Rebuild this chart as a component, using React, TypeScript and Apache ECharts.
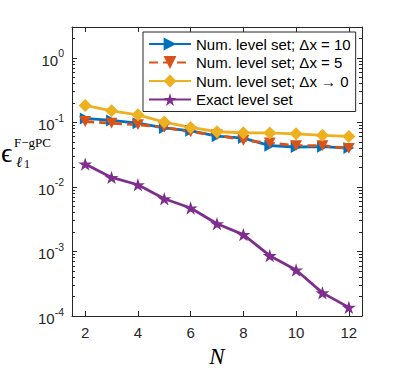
import React, { useEffect, useRef } from "react";
import * as echarts from "echarts";

const orders = [2, 3, 4, 5, 6, 7, 8, 9, 10, 11, 12];
const errNum10 = [0.115, 0.107, 0.097, 0.082, 0.074, 0.061, 0.057, 0.0435, 0.0415, 0.042, 0.04];
const errNum5 = [0.103, 0.097, 0.092, 0.0835, 0.071, 0.064, 0.0525, 0.048, 0.0435, 0.0435, 0.0395];
const errNum0 = [0.183, 0.151, 0.131, 0.101, 0.0835, 0.0715, 0.069, 0.0685, 0.0665, 0.063, 0.0605];
const errExact = [0.0226, 0.014, 0.0108, 0.00656, 0.00471, 0.00269, 0.00182, 0.00086, 0.000516, 0.000228, 0.000136];

const seriesNames = [
  "Num. level set; Δx = 10",
  "Num. level set; Δx = 5",
  "Num. level set; Δx → 0",
  "Exact level set",
];
const xTicks = [2, 4, 6, 8, 10, 12];
const yMajor = [1e-4, 1e-3, 1e-2, 1e-1, 1];
const yMinor = [
  2e-4, 3e-4, 4e-4, 5e-4, 6e-4, 7e-4, 8e-4, 9e-4,
  2e-3, 3e-3, 4e-3, 5e-3, 6e-3, 7e-3, 8e-3, 9e-3,
  2e-2, 3e-2, 4e-2, 5e-2, 6e-2, 7e-2, 8e-2, 9e-2,
  2e-1, 3e-1, 4e-1, 5e-1, 6e-1, 7e-1, 8e-1, 9e-1,
  2, 3,
];

const COLORS = ["#0072BD", "#D95319", "#EDB120", "#7E2F8E"];
const AX = "#262626";
const SANS = "'Liberation Sans', Arial, Helvetica, sans-serif";
const SERIF = "'Liberation Serif', 'DejaVu Serif', 'Times New Roman', serif";

const STAR =
  "path://M50,0 L61.23,34.55 L97.55,34.55 L68.17,55.9 L79.39,90.45 L50,69.1 L20.61,90.45 L31.83,55.9 L2.45,34.55 L38.77,34.55 Z";
const TRI_RIGHT = "path://M0,0 L9,5 L0,10 Z";
const TRI_DOWN = "path://M0,0 L10,0 L5,9 Z";
const DIAMOND = "path://M5,0 L10,5 L5,10 L0,5 Z";

const legendText = { fontSize: 15, lineHeight: 16, color: "#000", fontFamily: SANS };

export default function App() {
  const ref = useRef<HTMLDivElement>(null);
  useEffect(() => {
    if (!ref.current) return;
    const chart = echarts.init(ref.current, null, { renderer: "svg" });
    const mk = (vals: number[]) => orders.map((n, i) => [n, vals[i]]);
    const base = (i: number) => ({
      type: "line" as const,
      name: seriesNames[i],
      color: COLORS[i],
      lineStyle: { width: 2.8, color: COLORS[i] },
      itemStyle: { color: COLORS[i] },
      symbolKeepAspect: true,
    });
    const yAxisCommon = {
      type: "log" as const,
      logBase: 10,
      min: 1e-4,
      max: 3,
      splitLine: { show: false },
    };
    const xAxisCommon = {
      type: "value" as const,
      min: 1.5,
      max: 12.5,
      splitLine: { show: false },
    };
    chart.setOption({
      animation: false,
      backgroundColor: "#fff",
      grid: { left: 72, right: 37, top: 27, bottom: 55, containLabel: false, outerBoundsMode: "none" },
      legend: {
        orient: "vertical",
        left: 143,
        top: 32,
        padding: [4, 5, 4, 5],
        itemWidth: 42,
        itemHeight: 16,
        itemGap: 2.5,
        borderColor: AX,
        borderWidth: 1,
        borderRadius: 0,
        backgroundColor: "#fff",
        textStyle: legendText,
        data: seriesNames.map((name) => ({ name, textStyle: legendText })),
      },
      xAxis: [
        {
          ...xAxisCommon,
          position: "bottom",
          axisLine: { show: true, lineStyle: { color: AX, width: 1 } },
          axisTick: { show: true, inside: true, length: 5, customValues: xTicks, lineStyle: { color: AX } },
          axisLabel: { customValues: xTicks, fontSize: 15, color: AX, fontFamily: SANS, margin: 9 },
          name: "N",
          nameLocation: "middle",
          nameGap: 26,
          nameTextStyle: { fontFamily: SERIF, fontStyle: "italic", fontSize: 23, color: "#000" },
        },
        {
          ...xAxisCommon,
          position: "top",
          axisLine: { show: true, lineStyle: { color: AX, width: 1 } },
          axisTick: { show: true, inside: true, length: 5, customValues: xTicks, lineStyle: { color: AX } },
          axisLabel: { show: false },
        },
      ],
      yAxis: [
        {
          ...yAxisCommon,
          position: "left",
          axisLine: { show: true, lineStyle: { color: AX, width: 1 } },
          axisTick: { show: true, inside: true, length: 5, customValues: yMajor, lineStyle: { color: AX } },
          axisLabel: {
            customValues: yMajor,
            margin: 8,
            formatter: (v: number) => {
              const e = Math.round(Math.log10(v));
              return "{b|10}{s|" + e + "}";
            },
            rich: {
              b: { fontSize: 15, color: AX, fontFamily: SANS, verticalAlign: "bottom", lineHeight: 20 },
              s: { fontSize: 10.5, color: AX, fontFamily: SANS, verticalAlign: "top", lineHeight: 12 },
            },
          },
        },
        {
          ...yAxisCommon,
          position: "right",
          axisLine: { show: true, lineStyle: { color: AX, width: 1 } },
          axisTick: { show: true, inside: true, length: 5, customValues: yMajor, lineStyle: { color: AX } },
          axisLabel: { show: false },
        },
        {
          ...yAxisCommon,
          position: "left",
          axisLine: { show: false },
          axisTick: { show: true, inside: true, length: 3, customValues: yMinor, lineStyle: { color: AX } },
          axisLabel: { show: false },
        },
        {
          ...yAxisCommon,
          position: "right",
          axisLine: { show: false },
          axisTick: { show: true, inside: true, length: 3, customValues: yMinor, lineStyle: { color: AX } },
          axisLabel: { show: false },
        },
      ],
      series: [
        { ...base(0), data: mk(errNum10), symbol: TRI_RIGHT, symbolSize: 12 },
        { ...base(1), data: mk(errNum5), symbol: TRI_DOWN, symbolSize: 12, lineStyle: { width: 2.8, color: COLORS[1], type: [9, 5] } },
        { ...base(2), data: mk(errNum0), symbol: DIAMOND, symbolSize: 13 },
        { ...base(3), data: mk(errExact), symbol: STAR, symbolSize: 14 },
      ],
      graphic: [
        {
          type: "text",
          left: 1,
          top: 138,
          style: { text: "ϵ", fontSize: 28, fontFamily: SERIF, fill: "#000" },
        },
        {
          type: "text",
          left: 14,
          top: 136,
          style: { text: "F−gPC", fontSize: 13, fontFamily: SERIF, fill: "#000" },
        },
        {
          type: "text",
          left: 16,
          top: 154,
          style: { text: "ℓ", fontSize: 15, fontFamily: SERIF, fontStyle: "italic", fill: "#000" },
        },
        {
          type: "text",
          left: 24,
          top: 158,
          style: { text: "1", fontSize: 12, fontFamily: SERIF, fill: "#000" },
        },
      ],
    });
    return () => chart.dispose();
  }, []);
  return (
    <div
      ref={ref}
      style={{ position: "fixed", left: 0, top: 0, width: 399, height: 371, background: "#fff" }}
    />
  );
}
